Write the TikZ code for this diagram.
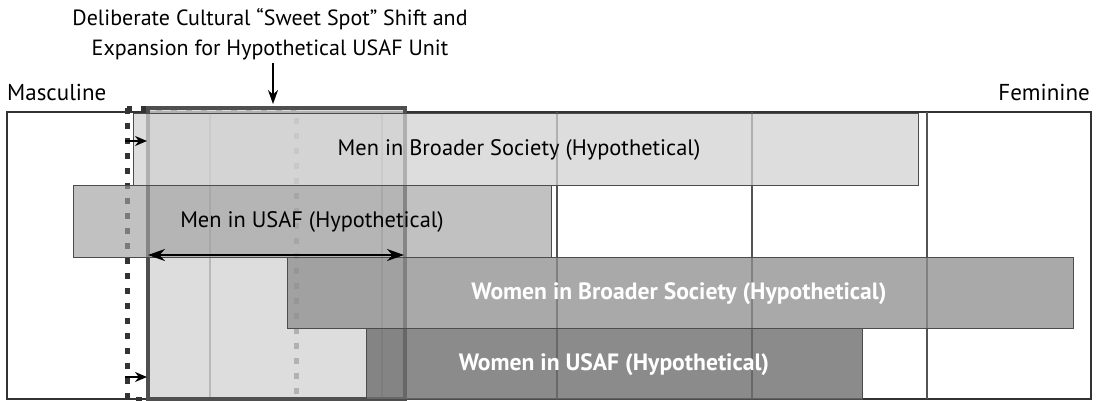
\documentclass[tikz,border=0pt]{standalone}
\usepackage{fontspec}
\setmainfont{PT Sans}
\usetikzlibrary{arrows.meta}

\definecolor{gridgray}{gray}{0.33}
\definecolor{spotedge}{gray}{0.31}
\definecolor{spotfill}{gray}{0.83}
\definecolor{menbroadfill}{gray}{0.82}
\definecolor{menusaffill}{gray}{0.63}
\definecolor{wombroadfill}{gray}{0.56}
\definecolor{womusaffill}{gray}{0.43}

\tikzset{
  gridline/.style={draw=gridgray, line width=1.5pt},
  band/.style={draw=black!70, line width=0.9pt},
  bandtext/.style={font=\fontsize{22.4}{26}\selectfont},
  womtext/.style={font=\fontsize{23.6}{28}\selectfont\bfseries, text=white},
  shiftarrow/.style={-{Stealth[length=12pt,width=10pt]}, line width=2pt},
}

\begin{document}
\begin{tikzpicture}[x=1pt,y=-1pt]
\useasboundingbox (0,0) rectangle (1098,400);

%%%%% frame and grid %%%%%
\draw[line width=2pt, draw=black!80] (7,112) rectangle (1091,399);
\foreach \gx in {210,382,557,752,927}
  \draw[gridline] (\gx,112) -- (\gx,399);

%%%%% old and new sweet spot %%%%%
\draw[dash pattern=on 6pt off 9pt, line width=5pt, draw=black!80] (127,108) rectangle (296,399);
\draw[fill=spotfill, fill opacity=0.79, draw=spotedge, line width=4pt] (148,108) rectangle (405,399);

%%%%% bands %%%%%
\draw[band, fill=menbroadfill, fill opacity=0.74] (133,113) rectangle (918,185);
\draw[band, fill=menusaffill, fill opacity=0.66] (73,185) rectangle (551,257);
\draw[band, fill=wombroadfill, fill opacity=0.77] (287,257) rectangle (1073,328);
\draw[band, fill=womusaffill, fill opacity=0.8] (366,328) rectangle (862,399);

\node[bandtext] (menbroad) at (519,150) {Men in Broader Society (Hypothetical)};
\node[bandtext] (menusaf) at (312,222) {Men in USAF (Hypothetical)};
\node[womtext] (wombroad) at (679,294) {Women in Broader Society (Hypothetical)};
\node[womtext] (womusaf) at (614,365) {Women in USAF (Hypothetical)};

%%%%% arrows %%%%%
\coordinate (spotL) at (148,255);
\coordinate (spotR) at (404,255);
\draw[{Stealth[length=17pt,width=12pt]}-{Stealth[length=17pt,width=12pt]}, line width=2.2pt] (spotL) -- (spotR);

\coordinate (oldtop) at (125,141);
\coordinate (newtop) at (147,141);
\coordinate (oldbot) at (125,377);
\coordinate (newbot) at (147,377);
\draw[shiftarrow] (oldtop) -- (newtop);
\draw[shiftarrow] (oldbot) -- (newbot);

%%%%% labels %%%%%
\node[align=center, font=\fontsize{22}{30}\selectfont] (title) at (270,34)
  {Deliberate Cultural “Sweet Spot” Shift and\\Expansion for Hypothetical USAF Unit};
\coordinate (spottop) at (273,104);
\draw[-{Stealth[length=14pt,width=10pt]}, line width=1.8pt] (title.south -| spottop) -- (spottop);

\node[anchor=west, inner sep=0pt, font=\fontsize{23}{26}\selectfont] (masc) at (7,92) {Masculine};
\node[anchor=east, inner sep=0pt, font=\fontsize{23}{26}\selectfont] (fem) at (1090,92) {Feminine};

\end{tikzpicture}
\end{document}
